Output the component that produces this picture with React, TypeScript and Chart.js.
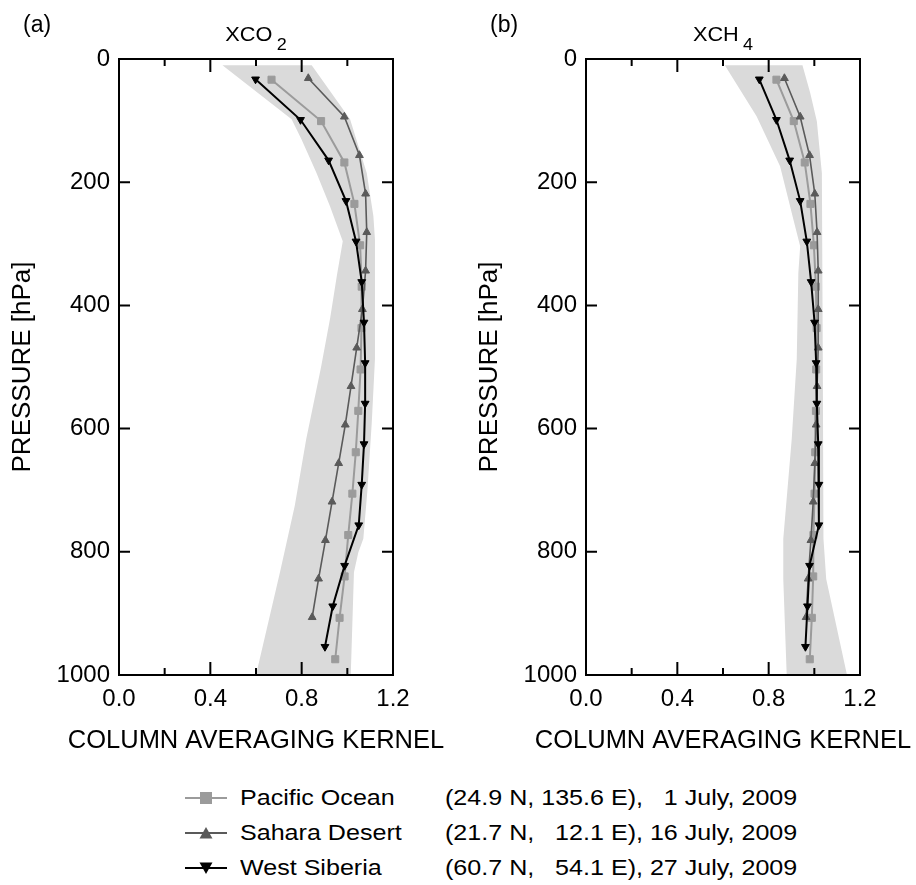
import React, { useEffect, useRef } from 'react';
import { Chart, registerables } from 'chart.js';

Chart.register(...registerables);

const FONT = '"Liberation Sans", Arial, Helvetica, sans-serif';

// ---- pressure levels of each sounding [hPa] ----
const pacificPressure = [33.6, 100.8, 168.0, 235.2, 302.4, 369.6, 436.8, 504.0, 571.2, 638.4, 705.6, 772.8, 840.0, 907.2, 974.4];
const saharaPressure = [31.3, 93.8, 156.3, 218.8, 281.3, 343.8, 406.3, 468.8, 531.3, 593.8, 656.3, 718.8, 781.3, 843.8, 906.3];
const siberiaPressure = [32.9, 98.7, 164.5, 230.3, 296.1, 361.9, 427.7, 493.5, 559.3, 625.1, 690.9, 756.7, 822.5, 888.3, 954.1];

// ---- (a) XCO2 column averaging kernels ----
const co2Pacific = [0.668, 0.885, 0.987, 1.031, 1.056, 1.063, 1.062, 1.058, 1.048, 1.037, 1.022, 1.004, 0.988, 0.966, 0.947];
const co2Sahara = [0.829, 0.987, 1.053, 1.080, 1.085, 1.080, 1.066, 1.041, 1.016, 0.991, 0.962, 0.933, 0.904, 0.874, 0.846];
const co2Siberia = [0.598, 0.795, 0.918, 0.994, 1.038, 1.063, 1.073, 1.078, 1.078, 1.073, 1.063, 1.050, 0.988, 0.936, 0.902];

// (a) shaded range: left and right edges
const co2BandLeftP = [10, 98, 131, 185, 239, 296, 350, 420, 500, 617, 725, 833, 1000];
const co2BandLeftV = [0.453, 0.756, 0.800, 0.865, 0.924, 0.980, 0.955, 0.925, 0.885, 0.820, 0.770, 0.705, 0.600];
const co2BandRightP = [10, 98, 185, 255, 293, 487, 590, 700, 779, 801, 833, 1000];
const co2BandRightV = [0.844, 1.012, 1.085, 1.114, 1.121, 1.121, 1.107, 1.088, 1.070, 1.048, 1.029, 1.015];

// ---- (b) XCH4 column averaging kernels ----
const ch4Pacific = [0.834, 0.910, 0.958, 0.983, 0.998, 1.007, 1.010, 1.008, 1.007, 1.004, 1.001, 0.996, 0.995, 0.989, 0.980];
const ch4Sahara = [0.869, 0.938, 0.979, 1.002, 1.012, 1.017, 1.017, 1.017, 1.012, 1.008, 1.002, 0.995, 0.985, 0.973, 0.964];
const ch4Siberia = [0.759, 0.834, 0.892, 0.938, 0.967, 0.986, 1.001, 1.008, 1.011, 1.017, 1.020, 1.020, 0.979, 0.970, 0.961];

const ch4BandLeftP = [10, 93, 174, 260, 304, 347, 487, 617, 779, 844, 1000];
const ch4BandLeftV = [0.608, 0.747, 0.850, 0.908, 0.938, 0.930, 0.923, 0.901, 0.864, 0.864, 0.879];
const ch4BandRightP = [10, 55, 101, 185, 487, 779, 844, 1000];
const ch4BandRightV = [0.948, 0.982, 1.011, 1.033, 1.037, 1.040, 1.052, 1.143];

// ---- axes ----
const xLabelTicks = [0, 0.4, 0.8, 1.2];
const xTickLabels = ['0.0', '0.4', '0.8', '1.2'];
const xMinorTicks = [0.2, 0.6, 1.0];
const yLabelTicks = [0, 200, 400, 600, 800, 1000];
const yInnerTicks = [200, 400, 600, 800];
const xAxisTitle = 'COLUMN AVERAGING KERNEL';
const yAxisTitle = 'PRESSURE [hPa]';

const seriesNames = ['Pacific Ocean', 'Sahara Desert', 'West Siberia'];
const seriesInfo = ['(24.9 N, 135.6 E),   1 July, 2009', '(21.7 N,   12.1 E), 16 July, 2009', '(60.7 N,   54.1 E), 27 July, 2009'];
const COLORS = { pacific: '#9b9b9b', sahara: '#5a5a5a', siberia: '#000000', band: '#dadada' };

const CANVAS_W = 449;
const CANVAS_H = 770;
const PLOT_LEFT = 119;
const PLOT_RIGHT = 393;
const PLOT_TOP = 59;
const PLOT_BOTTOM = 675;

const pts = (vals: number[], pres: number[]) => vals.map((v, i) => ({ x: v, y: pres[i] }));

const framePlugin = {
  id: 'frameTicks',
  afterDatasetsDraw(chart: any) {
    const { ctx, chartArea, scales } = chart;
    const { left, right, top, bottom } = chartArea;
    const x = scales.x;
    const y = scales.y;
    ctx.save();
    ctx.strokeStyle = '#000';
    ctx.lineWidth = 2;
    ctx.lineCap = 'butt';
    ctx.strokeRect(left, top, right - left, bottom - top);
    ctx.beginPath();
    const vTick = (v: number, len: number) => {
      const px = x.getPixelForValue(v);
      ctx.moveTo(px, bottom);
      ctx.lineTo(px, bottom - len);
      ctx.moveTo(px, top);
      ctx.lineTo(px, top + len);
    };
    xLabelTicks.slice(1, -1).forEach((v) => vTick(v, 13));
    xMinorTicks.forEach((v) => vTick(v, 7));
    yInnerTicks.forEach((v) => {
      const py = y.getPixelForValue(v);
      ctx.moveTo(left, py);
      ctx.lineTo(left + 11, py);
      ctx.moveTo(right, py);
      ctx.lineTo(right - 11, py);
    });
    ctx.stroke();
    // x-axis title (drawn without width compression)
    ctx.fillStyle = '#000';
    ctx.font = `25.5px ${FONT}`;
    ctx.textAlign = 'center';
    ctx.textBaseline = 'middle';
    ctx.fillText(xAxisTitle, (left + right) / 2, 741);
    ctx.restore();
  },
};

type PanelData = {
  pacific: number[];
  sahara: number[];
  siberia: number[];
  bandLeftP: number[];
  bandLeftV: number[];
  bandRightP: number[];
  bandRightV: number[];
};

function makeConfig(d: PanelData): any {
  const band = [
    ...pts(d.bandLeftV, d.bandLeftP),
    ...pts(d.bandRightV, d.bandRightP).reverse(),
  ];
  return {
    type: 'scatter',
    data: {
      datasets: [
        {
          label: seriesNames[2],
          data: pts(d.siberia, siberiaPressure),
          showLine: true,
          borderColor: COLORS.siberia,
          backgroundColor: COLORS.siberia,
          borderWidth: 2,
          pointStyle: 'triangle',
          pointRotation: 180,
          pointRadius: 4.5,
          pointBorderWidth: 1,
          fill: false,
        },
        {
          label: seriesNames[1],
          data: pts(d.sahara, saharaPressure),
          showLine: true,
          borderColor: COLORS.sahara,
          backgroundColor: COLORS.sahara,
          borderWidth: 1.6,
          pointStyle: 'triangle',
          pointRadius: 4.5,
          pointBorderWidth: 1,
          fill: false,
        },
        {
          label: seriesNames[0],
          data: pts(d.pacific, pacificPressure),
          showLine: true,
          borderColor: COLORS.pacific,
          backgroundColor: COLORS.pacific,
          borderWidth: 2,
          pointStyle: 'rect',
          pointRadius: 5,
          pointBorderWidth: 1,
          fill: false,
        },
        {
          label: 'range',
          data: band,
          showLine: true,
          borderWidth: 0,
          borderColor: 'rgba(0,0,0,0)',
          backgroundColor: COLORS.band,
          pointRadius: 0,
          fill: 'shape',
          tension: 0,
        },
      ],
    },
    options: {
      animation: false,
      responsive: false,
      devicePixelRatio: 1,
      layout: { padding: { left: 0, top: PLOT_TOP, right: CANVAS_W - PLOT_RIGHT, bottom: 0 } },
      plugins: { legend: { display: false }, tooltip: { enabled: false }, title: { display: false } },
      scales: {
        x: {
          type: 'linear',
          position: 'bottom',
          min: 0,
          max: 1.2,
          afterBuildTicks: (s: any) => {
            s.ticks = xLabelTicks.map((v) => ({ value: v }));
          },
          ticks: {
            callback: (_v: any, i: number) => xTickLabels[i],
            font: { family: FONT, size: 24 },
            color: '#000',
            padding: 10,
            maxRotation: 0,
            autoSkip: false,
          },
          grid: { display: false, drawTicks: false },
          border: { display: false },
          title: { display: false },
          afterFit: (s: any) => {
            s.height = CANVAS_H - PLOT_BOTTOM;
          },
        },
        y: {
          type: 'linear',
          position: 'left',
          min: 0,
          max: 1000,
          reverse: true,
          afterBuildTicks: (s: any) => {
            s.ticks = yLabelTicks.map((v) => ({ value: v }));
          },
          ticks: {
            callback: (v: any) => String(v),
            font: { family: FONT, size: 24 },
            color: '#000',
            padding: 9,
            autoSkip: false,
          },
          grid: { display: false, drawTicks: false },
          border: { display: false },
          title: {
            display: true,
            text: yAxisTitle,
            font: { family: FONT, size: 26, lineHeight: 1.2 },
            color: '#000',
            padding: { top: 7.4, bottom: 0 },
          },
          afterFit: (s: any) => {
            s.width = PLOT_LEFT;
          },
        },
      },
    },
    plugins: [framePlugin],
  };
}

function Panel({ offsetX, data }: { offsetX: number; data: PanelData }) {
  const ref = useRef<HTMLCanvasElement>(null);
  useEffect(() => {
    const chart = new Chart(ref.current as HTMLCanvasElement, makeConfig(data));
    return () => chart.destroy();
  }, []);
  return (
    <canvas
      ref={ref}
      width={CANVAS_W}
      height={CANVAS_H}
      style={{ position: 'absolute', left: offsetX, top: 0, width: CANVAS_W, height: CANVAS_H }}
    />
  );
}

const textBase: React.CSSProperties = {
  position: 'absolute',
  fontFamily: FONT,
  color: '#000',
  whiteSpace: 'pre',
};

function Title({ cx, main, sub }: { cx: number; main: string; sub: string }) {
  return (
    <div
      style={{
        ...textBase,
        left: cx,
        top: 19,
        fontSize: 20.5,
        lineHeight: '30px',
        transform: 'translateX(-50%) scaleX(1.06)',
      }}
    >
      {main}
      <span style={{ fontSize: 17, verticalAlign: '-9px', lineHeight: 0, marginLeft: 4 }}>{sub}</span>
    </div>
  );
}

function LegendSymbol({ kind, color }: { kind: string; color: string }) {
  let marker: React.ReactNode;
  if (kind === 'rect') {
    marker = <rect x={15} y={5} width={12} height={12} fill={color} />;
  } else if (kind === 'up') {
    marker = <polygon points="21,5 27.5,16.5 14.5,16.5" fill={color} />;
  } else {
    marker = <polygon points="21,17 27.5,5.5 14.5,5.5" fill={color} />;
  }
  return (
    <svg width={43} height={22} style={{ position: 'absolute', left: 185, top: 6 }}>
      <line x1={0} y1={11} x2={42} y2={11} stroke={color} strokeWidth={kind === 'down' ? 2 : 1.8} />
      {marker}
    </svg>
  );
}

export default function App() {
  const co2: PanelData = {
    pacific: co2Pacific,
    sahara: co2Sahara,
    siberia: co2Siberia,
    bandLeftP: co2BandLeftP,
    bandLeftV: co2BandLeftV,
    bandRightP: co2BandRightP,
    bandRightV: co2BandRightV,
  };
  const ch4: PanelData = {
    pacific: ch4Pacific,
    sahara: ch4Sahara,
    siberia: ch4Siberia,
    bandLeftP: ch4BandLeftP,
    bandLeftV: ch4BandLeftV,
    bandRightP: ch4BandRightP,
    bandRightV: ch4BandRightV,
  };
  const legendKinds = [
    { kind: 'rect', color: COLORS.pacific },
    { kind: 'up', color: COLORS.sahara },
    { kind: 'down', color: COLORS.siberia },
  ];
  const legendText: React.CSSProperties = {
    ...textBase,
    top: 0,
    fontSize: 22,
    lineHeight: '34px',
    transform: 'scaleX(1.14)',
    transformOrigin: 'left center',
  };
  return (
    <div style={{ position: 'absolute', left: 0, top: 0, width: 916, height: 885, background: '#fff', overflow: 'hidden' }}>
      <Panel offsetX={0} data={co2} />
      <Panel offsetX={467} data={ch4} />
      <div style={{ ...textBase, left: 23, top: 9, fontSize: 23, lineHeight: '30px' }}>(a)</div>
      <div style={{ ...textBase, left: 490, top: 9, fontSize: 23, lineHeight: '30px' }}>(b)</div>
      <Title cx={256} main="XCO" sub="2" />
      <Title cx={723} main="XCH" sub="4" />
      {seriesNames.map((name, i) => (
        <div key={name} style={{ position: 'absolute', left: 0, top: 781 + i * 35, width: 916, height: 34 }}>
          <LegendSymbol kind={legendKinds[i].kind} color={legendKinds[i].color} />
          <div style={{ ...legendText, left: 240 }}>{name}</div>
          <div style={{ ...legendText, left: 445 }}>{seriesInfo[i]}</div>
        </div>
      ))}
    </div>
  );
}
